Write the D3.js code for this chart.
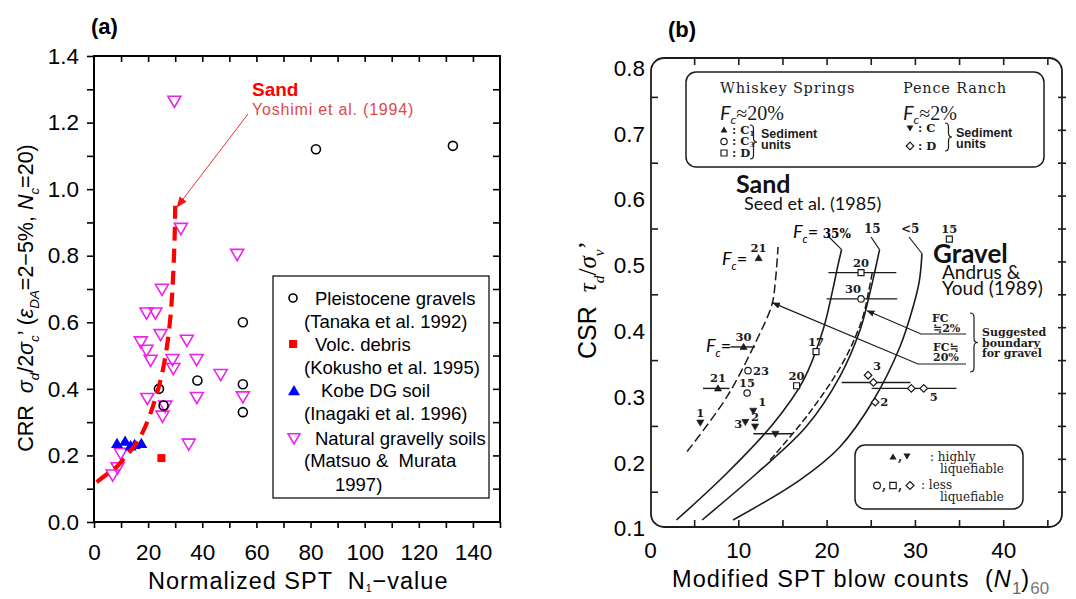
<!DOCTYPE html>
<html>
<head>
<meta charset="utf-8">
<script src="https://cdn.jsdelivr.net/npm/d3@7"></script>
<style>html,body{margin:0;padding:0;background:#fff;}</style>
</head>
<body>
<script>
'use strict';

// ---------- panel (a): CRR against normalized SPT N1 ----------
const aXTicks = [0, 20, 40, 60, 80, 100, 120, 140];
const aYTicks = [0, 0.2, 0.4, 0.6, 0.8, 1.0, 1.2, 1.4];
const pleistoceneGravels = [[24, 0.40], [25.7, 0.35], [38.2, 0.425], [55, 0.60], [55, 0.414], [55, 0.33], [82, 1.12], [132.6, 1.13]];
const volcDebris = [[24.9, 0.192]];
const kobeDG = [[8.5, 0.235], [11.5, 0.242], [13.5, 0.228], [15, 0.232], [17.5, 0.235]];
const naturalGravelly = [
  [29.7, 1.265], [32.1, 0.883], [52.9, 0.805], [25.1, 0.70], [19.4, 0.629], [22.7, 0.629],
  [24.6, 0.564], [17.3, 0.542], [19.4, 0.517], [20.9, 0.487], [34.3, 0.547], [29.0, 0.489],
  [29.3, 0.462], [37.9, 0.489], [46.8, 0.444], [19.7, 0.372], [26.3, 0.349], [25.3, 0.319],
  [38.0, 0.375], [55.0, 0.377], [35.0, 0.235], [9.9, 0.207], [8.7, 0.164], [6.9, 0.142]
];
const sandYoshimi = [[1, 0.12], [5, 0.145], [8, 0.163], [11, 0.19], [15, 0.23], [18, 0.27], [21, 0.33],
  [23, 0.38], [25, 0.44], [27, 0.53], [28.5, 0.64], [29.3, 0.75], [29.8, 0.86], [30, 0.95]];
const aLegend = ['Pleistocene gravels', '(Tanaka et al. 1992)', 'Volc. debris', '(Kokusho et al. 1995)',
  'Kobe DG soil', '(Inagaki et al. 1996)', 'Natural gravelly soils', '(Matsuo &  Murata', '1997)'];

// ---------- panel (b): CSR against (N1)60, Andrus & Youd ----------
const bXTicks = [0, 10, 20, 30, 40];
const bYTicks = [0.1, 0.2, 0.3, 0.4, 0.5, 0.6, 0.7, 0.8];
const seedFc35 = [[3.0, 0.107], [8.7, 0.178], [14.0, 0.254], [17.4, 0.320], [19.6, 0.396], [20.7, 0.457], [21.3, 0.495], [21.7, 0.518]];
const seedFc15 = [[5.9, 0.107], [12.1, 0.178], [17.7, 0.249], [21.5, 0.325], [23.8, 0.396], [24.9, 0.452], [25.5, 0.487], [26.0, 0.518]];
const seedFc5 = [[9.4, 0.107], [17.0, 0.168], [21.5, 0.218], [25.3, 0.289], [28.3, 0.370], [29.8, 0.431], [30.5, 0.470], [30.8, 0.512]];
const gravelFc20 = [[4.2, 0.211], [8.7, 0.294], [12.1, 0.381], [13.8, 0.434], [14.2, 0.47], [14.5, 0.522]];
const gravelFc2 = [[13.6, 0.198], [18.0, 0.269], [21.8, 0.345], [24.0, 0.411], [24.8, 0.457], [25.2, 0.485]];
const whiskeyC1 = [[12.3, 0.505, '21'], [10.6, 0.370, '30'], [7.7, 0.307, '21']];
const whiskeyC3 = [[11.1, 0.334, '23'], [11.0, 0.300, '15'], [23.9, 0.443, '30']];
const whiskeyD = [[33.9, 0.534, '15'], [18.8, 0.363, '17'], [16.6, 0.311, '20'], [23.9, 0.483, '20']];
const penceC = [[5.7, 0.255, '1'], [11.7, 0.273, '1'], [10.8, 0.256, '3'], [11.9, 0.249, '2'], [14.2, 0.238, '']];
const penceD = [[24.7, 0.327, '3'], [25.3, 0.316, ''], [29.6, 0.307, ''], [31.0, 0.307, '5'], [25.5, 0.286, '2']];
const rangeBars = [[0.483, 20.2, 27.9], [0.443, 20.0, 28.0], [0.316, 21.7, 29.5], [0.307, 25.1, 34.7],
  [0.238, 11.7, 16.2], [0.370, 9.1, 11.9], [0.307, 6.0, 9.0]];

// ---------- styles ----------
const SANS = '"Liberation Sans", Arial, sans-serif';
const SERIF = '"DejaVu Serif", "Liberation Serif", serif';
const TIMES = '"Liberation Serif", serif';
const CAL = 'Lato, "Open Sans", sans-serif';
const MAGENTA = '#ee22ee';
const INK = '#1c1c1c';

const W = 1076, H = 599;
const svg = d3.select('body').append('svg')
  .attr('xmlns', 'http://www.w3.org/2000/svg')
  .attr('width', W).attr('height', H).attr('viewBox', `0 0 ${W} ${H}`);
svg.append('rect').attr('width', W).attr('height', H).attr('fill', '#fff');

const defs = svg.append('defs');
function addMarker(id, color, size) {
  defs.append('marker').attr('id', id)
    .attr('viewBox', '0 0 10 10').attr('refX', 9).attr('refY', 5)
    .attr('markerUnits', 'userSpaceOnUse')
    .attr('markerWidth', size).attr('markerHeight', size).attr('orient', 'auto')
    .append('path').attr('d', 'M 0 1 L 10 5 L 0 9 z').attr('fill', color);
}
addMarker('arrRed', '#ff1010', 11);
addMarker('arrInk', INK, 8);

function addText(parent, x, y, text, size, weight, fill, anchor, family, italic) {
  const el = parent.append('text')
    .attr('x', x).attr('y', y)
    .attr('text-anchor', anchor || 'start')
    .attr('font-family', family || SANS)
    .attr('font-size', size)
    .attr('font-weight', weight || 400)
    .attr('fill', fill || '#000')
    .style('white-space', 'pre');
  if (italic) el.attr('font-style', 'italic');
  el.text(text);
  return el;
}

// text with subscripts built from tspans
function rich(parent, x, y, parts, size, opt) {
  opt = opt || {};
  const t = parent.append('text').attr('x', x).attr('y', y)
    .attr('font-family', opt.family || SANS).attr('font-size', size)
    .attr('font-weight', opt.weight || 400)
    .attr('text-anchor', opt.anchor || 'start').attr('fill', opt.fill || '#000')
    .style('white-space', 'pre');
  if (opt.spacing) t.attr('letter-spacing', opt.spacing);
  if (opt.rotate) t.attr('transform', `rotate(${opt.rotate},${x},${y})`);
  let shift = 0;
  parts.forEach(p => {
    const want = p.sub ? size * (p.drop || 0.3) : 0;
    const s = t.append('tspan').text(p.t).attr('dy', want - shift);
    shift = want;
    if (p.sub) s.attr('font-size', size * (p.scale || 0.62));
    if (p.sz) s.attr('font-size', p.sz);
    if (p.i) s.attr('font-style', 'italic');
    if (p.f) s.attr('font-family', p.f);
    if (p.fill) s.attr('fill', p.fill);
    if (p.w) s.attr('font-weight', p.w);
    if (p.ls !== undefined) s.attr('letter-spacing', p.ls);
  });
  return t;
}

const triUp = s => `M${-s},${s * 0.72}L${s},${s * 0.72}L0,${-s}Z`;
const triDown = s => `M${-s},${-s * 0.72}L${s},${-s * 0.72}L0,${s}Z`;
const square = s => `M${-s},${-s}H${s}V${s}H${-s}Z`;
const diamond = s => `M0,${-s}L${s},0L0,${s}L${-s},0Z`;

// =====================================================================
// panel (a)
// =====================================================================
const A = { left: 94, right: 500, top: 56, bottom: 522 };
const xA = d3.scaleLinear().domain([0, 150]).range([A.left, A.right]);
const yA = d3.scaleLinear().domain([0, 1.4]).range([A.bottom, A.top]);
const gA = svg.append('g');

addText(gA, 91, 34, '(a)', 22, 700);

// axes (ticks outward on left/bottom, inward on top/right)
function styleAxis(g, size, family) {
  g.attr('font-size', size).attr('font-family', family || SANS).attr('color', '#000');
  g.select('.domain').remove();
  g.selectAll('.tick line').attr('stroke-width', 1.6);
}
gA.append('g').attr('transform', `translate(0,${A.bottom})`)
  .call(d3.axisBottom(xA).tickValues(d3.range(0, 151, 10)).tickSize(6).tickPadding(16)
    .tickFormat(d => aXTicks.includes(d) ? d : ''))
  .call(g => styleAxis(g, 22.5));
gA.append('g').attr('transform', `translate(0,${A.top})`)
  .call(d3.axisTop(xA).tickValues(d3.range(10, 150, 10)).tickSize(-6).tickFormat(''))
  .call(g => styleAxis(g, 22));
gA.append('g').attr('transform', `translate(${A.left},0)`)
  .call(d3.axisLeft(yA).tickValues(d3.range(0, 1.41, 0.1)).tickSize(7).tickPadding(8)
    .tickFormat(d => aYTicks.some(v => Math.abs(v - d) < 1e-6) ? d3.format('.1f')(d) : ''))
  .call(g => styleAxis(g, 22.5));
gA.append('g').attr('transform', `translate(${A.right},0)`)
  .call(d3.axisRight(yA).tickValues(d3.range(0.1, 1.4, 0.1)).tickSize(-7).tickFormat(''))
  .call(g => styleAxis(g, 22));
gA.append('rect').attr('x', A.left).attr('y', A.top)
  .attr('width', A.right - A.left).attr('height', A.bottom - A.top)
  .attr('fill', 'none').attr('stroke', '#000').attr('stroke-width', 2);

// axis titles
rich(gA, 33, 298, [
  { t: 'CRR  ' }, { t: 'σ', i: 1 }, { t: 'd', sub: 1, i: 1 }, { t: '/2' }, { t: 'σ', i: 1 },
  { t: 'c', sub: 1, i: 1 }, { t: '’ (' }, { t: 'ε', i: 1 }, { t: 'DA', sub: 1, i: 1 },
  { t: '=2−5%, ' }, { t: 'N', i: 1 }, { t: 'c', sub: 1, i: 1 }, { t: '=20)' }
], 21.5, { anchor: 'middle', rotate: -90 });
rich(gA, 148, 589, [{ t: 'Normalized SPT  N' }, { t: '1', sub: 1, scale: 0.45, drop: 0.12 }, { t: '−value' }],
  23.5, { spacing: 1 });

// points
gA.selectAll('.ng').data(naturalGravelly).join('path')
  .attr('d', triDown(6.5))
  .attr('transform', d => `translate(${xA(d[0])},${yA(d[1])})`)
  .attr('fill', 'none').attr('stroke', MAGENTA).attr('stroke-width', 1.6);
gA.selectAll('.pg').data(pleistoceneGravels).join('circle')
  .attr('cx', d => xA(d[0])).attr('cy', d => yA(d[1])).attr('r', 4.5)
  .attr('fill', 'none').attr('stroke', '#000').attr('stroke-width', 1.6);
gA.selectAll('.vd').data(volcDebris).join('path')
  .attr('d', square(4))
  .attr('transform', d => `translate(${xA(d[0])},${yA(d[1])})`)
  .attr('fill', '#ff0000');
gA.selectAll('.kb').data(kobeDG).join('path')
  .attr('d', triUp(6))
  .attr('transform', d => `translate(${xA(d[0])},${yA(d[1])})`)
  .attr('fill', '#0000ff');

// Yoshimi et al. sand curve
gA.append('path').datum(sandYoshimi)
  .attr('d', d3.line().x(d => xA(d[0])).y(d => yA(d[1])).curve(d3.curveCatmullRom))
  .attr('fill', 'none').attr('stroke', '#ff0000').attr('stroke-width', 4.2)
  .attr('stroke-dasharray', '14,8');

const tip = sandYoshimi[sandYoshimi.length - 1];
gA.append('line').attr('x1', 248).attr('y1', 114)
  .attr('x2', xA(tip[0]) + 2).attr('y2', yA(tip[1]) + 1)
  .attr('stroke', '#f03030').attr('stroke-width', 1).attr('marker-end', 'url(#arrRed)');
addText(gA, 252, 96, 'Sand', 19, 700, '#ff0000');
addText(gA, 252, 115, 'Yoshimi et al. (1994)', 16, 400, '#e04848').attr('letter-spacing', 0.8);

// legend
const lg = gA.append('g');
lg.append('rect').attr('x', 273).attr('y', 276).attr('width', 216).attr('height', 222)
  .attr('fill', '#fff').attr('stroke', '#000').attr('stroke-width', 1.2);
const lgX = [315, 304, 315, 304, 321, 304, 315, 304, 335];
const lgY = [305, 328, 351, 374, 397, 420, 445, 467, 491];
aLegend.forEach((s, i) => addText(lg, lgX[i], lgY[i], s, 18.5));
lg.append('circle').attr('cx', 293).attr('cy', 298).attr('r', 4)
  .attr('fill', 'none').attr('stroke', '#000').attr('stroke-width', 1.6);
lg.append('path').attr('d', square(4)).attr('transform', 'translate(293,344)').attr('fill', '#ff0000');
lg.append('path').attr('d', triUp(6)).attr('transform', 'translate(294,391)').attr('fill', '#0000ff');
lg.append('path').attr('d', triDown(6)).attr('transform', 'translate(294,438)')
  .attr('fill', 'none').attr('stroke', MAGENTA).attr('stroke-width', 1.6);

// =====================================================================
// panel (b)
// =====================================================================
const xB = d3.scaleLinear().domain([0, 47]).range([650, 650 + 47 * 8.83]);
const yB = d3.scaleLinear().domain([0.1, 0.8]).range([524.6, 64]);
const B = { left: 651, right: 1062, top: 58, bottom: 527 };
const gB = svg.append('g');

addText(gB, 668, 37, '(b)', 22, 700);

gB.append('rect').attr('x', B.left).attr('y', B.top)
  .attr('width', B.right - B.left).attr('height', B.bottom - B.top).attr('rx', 13)
  .attr('fill', 'none').attr('stroke', INK).attr('stroke-width', 1.8);

gB.append('g').attr('transform', `translate(${B.left},0)`)
  .call(d3.axisLeft(yB).tickValues(bYTicks).tickSize(0).tickPadding(6).tickFormat(d3.format('.1f')))
  .call(g => styleAxis(g, 22.5))
  .call(g => g.selectAll('text').attr('dy', '0.5em'));
gB.append('g').attr('transform', `translate(${B.left},0)`)
  .call(d3.axisLeft(yB).tickValues(d3.range(0.15, 0.8, 0.1)).tickSize(-7).tickFormat(''))
  .call(g => styleAxis(g, 22)).attr('color', INK);
gB.append('g').attr('transform', `translate(${B.right - 4},0)`)
  .call(d3.axisRight(yB).tickValues(d3.range(0.15, 0.8, 0.05)).tickSize(8).tickFormat(''))
  .call(g => styleAxis(g, 22)).attr('color', INK);
gB.append('g').attr('transform', `translate(0,${B.bottom})`)
  .call(d3.axisBottom(xB).tickValues(bXTicks).tickSize(0).tickPadding(15))
  .call(g => styleAxis(g, 22.5));
gB.append('g').attr('transform', `translate(0,${B.bottom})`)
  .call(d3.axisBottom(xB).tickValues(d3.range(5, 46, 5)).tickSize(-7).tickFormat(''))
  .call(g => styleAxis(g, 22)).attr('color', INK);
gB.append('g').attr('transform', `translate(0,${B.top})`)
  .call(d3.axisTop(xB).tickValues(d3.range(5, 46, 5)).tickSize(-7).tickFormat(''))
  .call(g => styleAxis(g, 22)).attr('color', INK);

rich(gB, 596, 300, [
  { t: 'CSR  ' }, { t: 'τ', i: 1, f: TIMES }, { t: 'd', sub: 1, i: 1, f: TIMES }, { t: '/', f: TIMES },
  { t: 'σ', i: 1, f: TIMES }, { t: 'v', sub: 1, i: 1, f: TIMES }, { t: '’', f: TIMES }
], 25, { anchor: 'middle', rotate: -90 });
rich(gB, 672, 587, [
  { t: 'Modified SPT blow counts  (' }, { t: 'N', i: 1 }, { t: '1', sub: 1, fill: '#666', scale: 0.72, ls: 0 },
  { t: ')' }, { t: '60', sub: 1, fill: '#777', scale: 0.72, ls: 0 }
], 23.5, { spacing: 1.1 });

// curves
const lineB = d3.line().x(d => xB(d[0])).y(d => yB(d[1])).curve(d3.curveCatmullRom);
[seedFc35, seedFc15, seedFc5].forEach(c => {
  gB.append('path').datum(c).attr('d', lineB)
    .attr('fill', 'none').attr('stroke', INK).attr('stroke-width', 1.6);
});
gB.append('path').datum(gravelFc20).attr('d', lineB)
  .attr('fill', 'none').attr('stroke', INK).attr('stroke-width', 1.5).attr('stroke-dasharray', '9,4');
gB.append('path').datum(gravelFc2).attr('d', lineB)
  .attr('fill', 'none').attr('stroke', INK).attr('stroke-width', 1.5).attr('stroke-dasharray', '7,3');

// leaders to the Seed et al. curves
[[seedFc35, 828, 236], [seedFc15, 871, 237], [seedFc5, 909, 237]].forEach(([c, x0, y0]) => {
  const e = c[c.length - 1];
  gB.append('line').attr('x1', x0).attr('y1', y0).attr('x2', xB(e[0])).attr('y2', yB(e[1]))
    .attr('stroke', INK).attr('stroke-width', 1.2);
});

// horizontal range bars
gB.selectAll('.rb').data(rangeBars).join('line')
  .attr('x1', d => xB(d[1])).attr('x2', d => xB(d[2]))
  .attr('y1', d => yB(d[0])).attr('y2', d => yB(d[0]))
  .attr('stroke', INK).attr('stroke-width', 1.4);

// field points
function pts(data, shape, filled) {
  gB.selectAll(null).data(data).join('path')
    .attr('d', shape)
    .attr('transform', d => `translate(${xB(d[0])},${yB(d[1])})`)
    .attr('fill', filled ? INK : '#fff').attr('stroke', INK).attr('stroke-width', filled ? 0.6 : 1.2);
}
pts(whiskeyC1, triUp(3.6), true);
pts(penceC, triDown(3.6), true);
pts(whiskeyD, square(3), false);
pts(penceD, diamond(3.8), false);
gB.selectAll(null).data(whiskeyC3).join('circle')
  .attr('cx', d => xB(d[0])).attr('cy', d => yB(d[1])).attr('r', 3.2)
  .attr('fill', '#fff').attr('stroke', INK).attr('stroke-width', 1.2);

// point labels: offset from the symbol [dx, dy]
const place = { above: [0, -6], right: [5, 4], left: [-11, 6], ur: [5, -5], lr: [6, 13], ul: [-8, -6] };
function pointLabels(data, where) {
  data.forEach((d, i) => {
    if (!d[2]) return;
    const [dx, dy] = place[where[i]];
    addText(gB, xB(d[0]) + dx, yB(d[1]) + dy, d[2], 11.5, 700, INK,
      where[i] === 'above' || where[i] === 'ul' ? 'middle' : 'start', SERIF);
  });
}
pointLabels(whiskeyC1, ['above', 'above', 'above']);
pointLabels(whiskeyC3, ['right', 'above', 'ul']);
pointLabels(whiskeyD, ['above', 'above', 'above', 'above']);
pointLabels(penceC, ['above', 'ur', 'left', 'above', 'above']);
pointLabels(penceD, ['ur', 'ur', 'ur', 'lr', 'right']);

// F_c= labels
const fcParts = n => [{ t: 'F', i: 1, f: CAL }, { t: 'c', sub: 1, i: 1, f: CAL }, { t: '= ', f: CAL }, { t: n, f: SERIF, w: 700, sz: 12 }];
rich(gB, 793, 238, fcParts('35%'), 18);
addText(gB, 864, 233, '15', 12, 700, INK, 'start', SERIF);
addText(gB, 901, 233, '<5', 12, 700, INK, 'start', SERIF);
rich(gB, 722, 265, fcParts(''), 18);
rich(gB, 706, 352, fcParts(''), 18);

// Sand / Gravel headings
addText(gB, 736, 193, 'Sand', 25, 700, '#111', 'start', CAL);
addText(gB, 744, 210, 'Seed et al. (1985)', 18, 400, '#111', 'start', CAL);
addText(gB, 933, 263, 'Gravel', 26, 700, '#111', 'start', CAL);
addText(gB, 942, 279, 'Andrus &', 19, 400, '#111', 'start', CAL);
addText(gB, 942, 295, 'Youd (1989)', 19, 400, '#111', 'start', CAL);

// suggested boundary for gravel
function brace(x, y0, y1, w) {
  const m = (y0 + y1) / 2, h = w / 2;
  return `M${x},${y0} Q${x + h},${y0} ${x + h},${y0 + 4} L${x + h},${m - 4} Q${x + h},${m} ${x + w},${m} ` +
    `Q${x + h},${m} ${x + h},${m + 4} L${x + h},${y1 - 4} Q${x + h},${y1} ${x},${y1}`;
}
const sf = 11;
addText(gB, 932, 322, 'FC', sf, 700, INK, 'start', SERIF);
addText(gB, 933, 332, '≒2%', sf, 700, INK, 'start', SERIF);
addText(gB, 933, 351, 'FC≒', sf, 700, INK, 'start', SERIF);
addText(gB, 933, 361, '20%', sf, 700, INK, 'start', SERIF);
gB.append('polyline').attr('points', `966,334 921,334 ${xB(24.6)},${yB(0.425)}`)
  .attr('fill', 'none').attr('stroke', INK).attr('stroke-width', 1.2).attr('marker-end', 'url(#arrInk)');
gB.append('polyline').attr('points', `966,364 918,364 ${xB(13.9)},${yB(0.437)}`)
  .attr('fill', 'none').attr('stroke', INK).attr('stroke-width', 1.2).attr('marker-end', 'url(#arrInk)');
gB.append('path').attr('d', brace(970, 313, 372, 8)).attr('fill', 'none').attr('stroke', INK).attr('stroke-width', 1.2);
addText(gB, 982, 336, 'Suggested', sf, 700, INK, 'start', SERIF);
addText(gB, 982, 346.5, 'boundary', sf, 700, INK, 'start', SERIF);
addText(gB, 982, 357, 'for gravel', sf, 700, INK, 'start', SERIF);

// site legend (top box)
const lt = gB.append('g');
lt.append('rect').attr('x', 686).attr('y', 72).attr('width', 358).attr('height', 95).attr('rx', 10)
  .attr('fill', 'none').attr('stroke', INK).attr('stroke-width', 1.5);
addText(lt, 720, 93, 'Whiskey Springs', 14.5, 400, INK, 'start', SERIF).attr('letter-spacing', 0.8);
addText(lt, 903, 93, 'Pence Ranch', 14.5, 400, INK, 'start', SERIF).attr('letter-spacing', 0.8);
const fcNear = n => [{ t: 'F', i: 1, f: CAL }, { t: 'c', sub: 1, i: 1, f: CAL, drop: 0.2 }, { t: '≈' + n, f: TIMES }];
rich(lt, 720, 120, fcNear('20%'), 20, { fill: INK });
rich(lt, 903, 120, fcNear('2%'), 20, { fill: INK });
lt.append('path').attr('d', triUp(3.4)).attr('transform', 'translate(724,130)').attr('fill', INK);
lt.append('circle').attr('cx', 724).attr('cy', 141.5).attr('r', 3.2).attr('fill', 'none').attr('stroke', INK).attr('stroke-width', 1.2);
lt.append('path').attr('d', square(3)).attr('transform', 'translate(724,153)').attr('fill', 'none').attr('stroke', INK).attr('stroke-width', 1.2);
rich(lt, 732, 134, [{ t: ': C' }, { t: '1', sub: 1, drop: 0.15 }], 11.5, { family: SERIF, weight: 700, fill: INK });
rich(lt, 732, 145, [{ t: ': C' }, { t: '3', sub: 1, drop: 0.15 }], 11.5, { family: SERIF, weight: 700, fill: INK });
addText(lt, 732, 157, ': D', 11.5, 700, INK, 'start', SERIF);
lt.append('path').attr('d', brace(750, 125, 159, 7)).attr('fill', 'none').attr('stroke', INK).attr('stroke-width', 1.2);
addText(lt, 761, 138, 'Sediment', 12.5, 700, INK, 'start', SANS);
addText(lt, 761, 148.5, 'units', 12.5, 700, INK, 'start', SANS);
lt.append('path').attr('d', triDown(3.4)).attr('transform', 'translate(910,128)').attr('fill', INK);
lt.append('path').attr('d', diamond(3.8)).attr('transform', 'translate(910,146)').attr('fill', 'none').attr('stroke', INK).attr('stroke-width', 1.2);
addText(lt, 918, 132, ': C', 11.5, 700, INK, 'start', SERIF);
addText(lt, 918, 150, ': D', 11.5, 700, INK, 'start', SERIF);
lt.append('path').attr('d', brace(945, 123, 151, 7)).attr('fill', 'none').attr('stroke', INK).attr('stroke-width', 1.2);
addText(lt, 956, 137, 'Sediment', 12.5, 700, INK, 'start', SANS);
addText(lt, 956, 147.5, 'units', 12.5, 700, INK, 'start', SANS);

// liquefiability legend (bottom box)
const lb = gB.append('g');
lb.append('rect').attr('x', 855).attr('y', 445).attr('width', 168).attr('height', 64).attr('rx', 10)
  .attr('fill', 'none').attr('stroke', INK).attr('stroke-width', 1.5);
lb.append('path').attr('d', triUp(3.6)).attr('transform', 'translate(893,457)').attr('fill', INK);
addText(lb, 898, 461, ',', 12, 700, INK, 'start', SERIF);
lb.append('path').attr('d', triDown(3.6)).attr('transform', 'translate(907,456)').attr('fill', INK);
addText(lb, 930, 461, ': highly', 12, 400, INK, 'start', SERIF);
addText(lb, 940, 472.5, 'liquefiable', 12, 400, INK, 'start', SERIF);
lb.append('circle').attr('cx', 877).attr('cy', 485.5).attr('r', 3.4).attr('fill', 'none').attr('stroke', INK).attr('stroke-width', 1.2);
addText(lb, 882, 490, ',', 12, 700, INK, 'start', SERIF);
lb.append('path').attr('d', square(3.2)).attr('transform', 'translate(893,485.5)').attr('fill', 'none').attr('stroke', INK).attr('stroke-width', 1.2);
addText(lb, 898, 490, ',', 12, 700, INK, 'start', SERIF);
lb.append('path').attr('d', diamond(4)).attr('transform', 'translate(910,485.5)').attr('fill', 'none').attr('stroke', INK).attr('stroke-width', 1.2);
addText(lb, 921, 488.5, ': less', 12, 400, INK, 'start', SERIF);
addText(lb, 940, 500.5, 'liquefiable', 12, 400, INK, 'start', SERIF);
</script>
</body>
</html>
